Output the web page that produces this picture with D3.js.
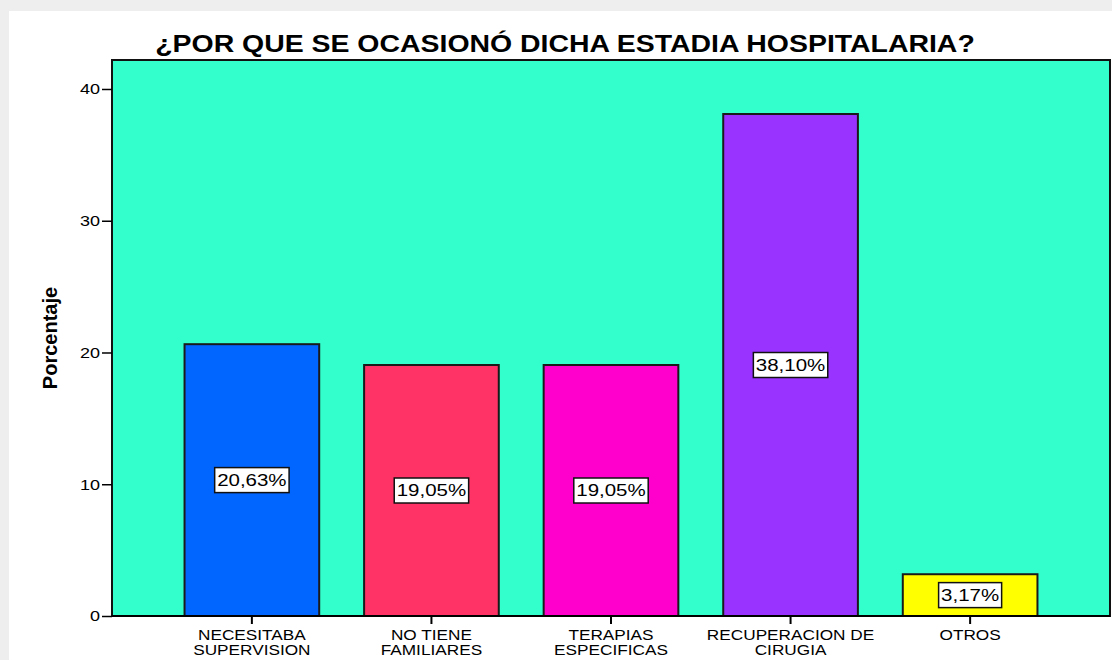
<!DOCTYPE html>
<html>
<head>
<meta charset="utf-8">
<script src="https://cdn.jsdelivr.net/npm/d3@7"></script>
<style>
  body { margin: 0; background: #fff; }
  svg { display: block; font-family: "Liberation Sans", Arial, sans-serif; }
</style>
</head>
<body>
<svg id="chart"></svg>
<script>
"use strict";

var categories = [
    ["NECESITABA", "SUPERVISION"],
    ["NO TIENE", "FAMILIARES"],
    ["TERAPIAS", "ESPECIFICAS"],
    ["RECUPERACION DE", "CIRUGIA"],
    ["OTROS"]
];
var values = [20.63, 19.05, 19.05, 38.10, 3.17];
var valueLabels = ["20,63%", "19,05%", "19,05%", "38,10%", "3,17%"];
var barColors = ["#0066ff", "#ff3366", "#ff00cc", "#9933ff", "#ffff00"];
var yTicks = [0, 10, 20, 30, 40];

var width = 1112, height = 660;
var plot = { left: 112, top: 60, right: 1110, bottom: 616 };
var stretch = 1.2;   // the picture is a bit wider than tall

// scale text horizontally around its anchor x
function widen(sel, sx, cx) {
    sel.attr('transform', `matrix(${sx},0,0,1,${(1 - sx) * cx},0)`);
}

var svg = d3.select('#chart')
    .attr('width', width)
    .attr('height', height);

// gray frame shadow + white panel
svg.append('rect').attr('width', width).attr('height', height).attr('fill', '#eeeeee');
svg.append('rect').attr('x', 9).attr('y', 11).attr('width', width - 9).attr('height', height - 11).attr('fill', '#ffffff');

var x = d3.scaleBand()
    .domain(d3.range(categories.length))
    .range([plot.left, plot.right])
    .paddingInner(0.25)
    .paddingOuter(0.404);

var y = d3.scaleLinear()
    .domain([0, 42.2])
    .range([plot.bottom, plot.top]);

// plot background
svg.append('rect')
    .attr('x', plot.left)
    .attr('y', plot.top)
    .attr('width', plot.right - plot.left)
    .attr('height', plot.bottom - plot.top)
    .attr('fill', '#33ffcc')
    .attr('stroke', '#111')
    .attr('stroke-width', 2);

// bars
svg.append('g').selectAll('rect')
    .data(values)
    .enter()
    .append('rect')
        .attr('x', (d, i) => x(i))
        .attr('y', d => y(d))
        .attr('width', x.bandwidth())
        .attr('height', d => y(0) - y(d))
        .attr('fill', (d, i) => barColors[i])
        .attr('stroke', '#1a1a1a')
        .attr('stroke-width', 2);

// value labels in boxes
var lab = svg.append('g').selectAll('g')
    .data(values)
    .enter()
    .append('g')
        .attr('transform', (d, i) => `translate(${x(i) + x.bandwidth() / 2},${y(d / 2)})`);

lab.append('text')
    .attr('text-anchor', 'middle')
    .attr('dy', '0.36em')
    .attr('font-size', 16)
    .attr('fill', '#000')
    .attr('transform', 'scale(1.28,1)')
    .text((d, i) => valueLabels[i]);

lab.each(function() {
    var g = d3.select(this);
    var bb = g.select('text').node().getBBox();
    var w = bb.width * 1.28;
    g.insert('rect', 'text')
        .attr('x', -w / 2 - 2.5)
        .attr('y', -12.5)
        .attr('width', w + 5)
        .attr('height', 25)
        .attr('fill', '#fff')
        .attr('stroke', '#111')
        .attr('stroke-width', 1.5);
});

// y axis
var yAxis = svg.append('g')
    .attr('transform', `translate(${plot.left},0)`)
    .call(d3.axisLeft(y).tickValues(yTicks).tickSize(10).tickPadding(2));
yAxis.select('.domain').remove();
yAxis.selectAll('line').attr('stroke', '#000').attr('stroke-width', 1.5);
yAxis.selectAll('text')
    .attr('font-size', 15)
    .attr('fill', '#000')
    .attr('font-family', '"Liberation Sans", Arial, sans-serif')
    .attr('transform', `scale(${stretch},1)`)
    .attr('x', -12 / stretch);

// x axis
var xAxis = svg.append('g')
    .attr('transform', `translate(0,${plot.bottom})`)
    .call(d3.axisBottom(x).tickSize(8).tickFormat(''));
xAxis.select('.domain').attr('d', `M${plot.left},0H${plot.right}`).attr('stroke', '#000').attr('stroke-width', 2);
xAxis.selectAll('line').attr('stroke', '#000').attr('stroke-width', 2);

var catText = svg.append('g').selectAll('text')
    .data(categories)
    .enter()
    .append('text')
        .attr('x', (d, i) => x(i) + x.bandwidth() / 2)
        .attr('y', plot.bottom + 24)
        .attr('text-anchor', 'middle')
        .attr('font-size', 14)
        .attr('fill', '#000');
catText.each(function(d, i) {
    widen(d3.select(this), 1.23, x(i) + x.bandwidth() / 2);
});

catText.selectAll('tspan')
    .data(d => d)
    .enter()
    .append('tspan')
        .attr('x', function() { return d3.select(this.parentNode).attr('x'); })
        .attr('dy', (d, i) => i === 0 ? 0 : 15)
        .text(d => d);

// title
var title = svg.append('text')
    .attr('x', 565)
    .attr('y', 52)
    .attr('text-anchor', 'middle')
    .attr('font-size', 24)
    .attr('font-weight', 'bold')
    .attr('fill', '#000')
    .text('¿POR QUE SE OCASIONÓ DICHA ESTADIA HOSPITALARIA?');
widen(title, 1.185, 565);

// y label
svg.append('text')
    .attr('transform', 'translate(57,338) rotate(-90)')
    .attr('text-anchor', 'middle')
    .attr('font-size', 20)
    .attr('font-weight', 'bold')
    .attr('fill', '#000')
    .text('Porcentaje');
</script>
</body>
</html>
